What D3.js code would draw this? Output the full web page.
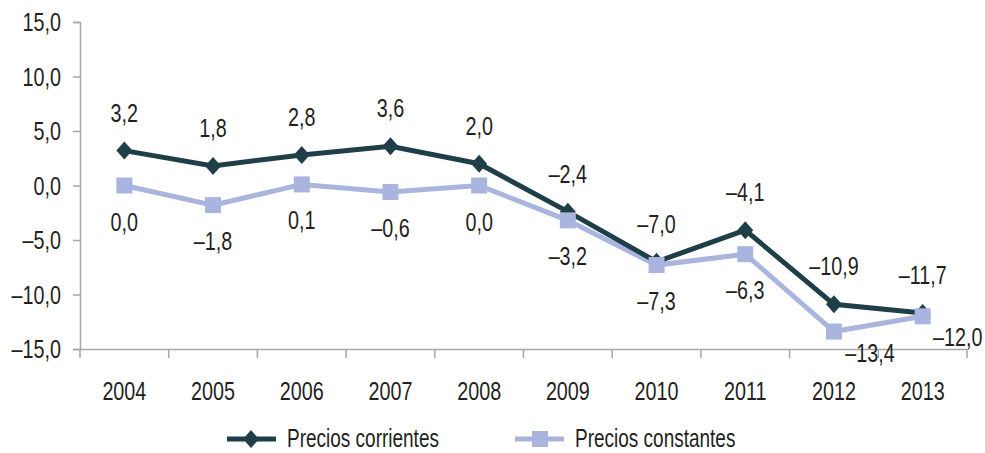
<!DOCTYPE html>
<html>
<head>
<meta charset="utf-8">
<script src="https://cdn.jsdelivr.net/npm/d3@7"></script>
<style>
  body { margin: 0; background: #fff; }
  svg text { font-family: "Liberation Sans", Arial, sans-serif; fill: #231f20; }
</style>
</head>
<body>
<svg width="985" height="453"></svg>
<script>
const years = ['2004', '2005', '2006', '2007', '2008', '2009', '2010', '2011', '2012', '2013'];
const corrientes = [3.2, 1.8, 2.8, 3.6, 2.0, -2.4, -7.0, -4.1, -10.9, -11.7];
const constantes = [0.0, -1.8, 0.1, -0.6, 0.0, -3.2, -7.3, -6.3, -13.4, -12.0];
const yTicks = [-15, -10, -5, 0, 5, 10, 15];
const seriesNames = ['Precios corrientes', 'Precios constantes'];

const DARK = '#1f3f48';
const LIGHT = '#a9b5de';
const AXIS = '#a6a6a6';
const FS = 26;        // font size
const SX = 0.76;      // horizontal squeeze, the original uses a condensed face

const svg = d3.select('svg');

const x = d3.scaleBand().domain(years).range([80, 967]);
const y = d3.scaleLinear().domain([-15, 15]).range([349, 22]);
const cx = d => x(d) + x.bandwidth() / 2;

const fmt = v => {
    const s = Math.abs(v).toFixed(1).replace('.', ',');
    return (v < 0 ? '\u2013' : '') + s;
};

// condensed text at (px, py)
function label(parent, px, py, txt, anchor, size) {
    return parent.append('text')
        .attr('transform', `translate(${px},${py}) scale(${SX},1)`)
        .attr('text-anchor', anchor || 'middle')
        .attr('font-size', size || FS)
        .text(txt);
}

// AXES

const gy = svg.append('g')
    .attr('transform', 'translate(80,0)')
    .call(d3.axisLeft(y).tickValues(yTicks).tickSize(7).tickFormat(''));

const gx = svg.append('g')
    .attr('transform', 'translate(0,349)')
    .call(d3.axisBottom(x).tickSize(0).tickFormat(''));

gx.selectAll('.sep')
    .data(d3.range(years.length + 1))
    .join('line')
    .attr('class', 'sep')
    .attr('x1', i => 80 + i * x.bandwidth())
    .attr('x2', i => 80 + i * x.bandwidth())
    .attr('y1', 0)
    .attr('y2', 9)
    .attr('stroke', AXIS)
    .attr('stroke-width', 1.5);

[gy, gx].forEach(g => {
    g.select('.domain').attr('stroke', AXIS).attr('stroke-width', 1.5);
    g.selectAll('.tick line').attr('stroke', AXIS).attr('stroke-width', 1.5);
});

yTicks.forEach(t => label(svg, 61, y(t) + 9, fmt(t), 'end'));
years.forEach(yr => label(svg, cx(yr), 400, yr));

// LINES

const line = d3.line()
    .x((d, i) => cx(years[i]))
    .y(d => y(d));

svg.append('path')
    .datum(constantes)
    .attr('d', line)
    .attr('fill', 'none')
    .attr('stroke', LIGHT)
    .attr('stroke-width', 5);

svg.append('path')
    .datum(corrientes)
    .attr('d', line)
    .attr('fill', 'none')
    .attr('stroke', DARK)
    .attr('stroke-width', 5);

const diamond = 'M0,-9L8,0L0,9L-8,0Z';

svg.selectAll('.mk-corr')
    .data(corrientes)
    .join('path')
    .attr('class', 'mk-corr')
    .attr('d', diamond)
    .attr('transform', (d, i) => `translate(${cx(years[i])},${y(d)})`)
    .attr('fill', DARK);

svg.selectAll('.mk-const')
    .data(constantes)
    .join('rect')
    .attr('class', 'mk-const')
    .attr('x', (d, i) => cx(years[i]) - 8)
    .attr('y', d => y(d) - 8)
    .attr('width', 16)
    .attr('height', 16)
    .attr('fill', LIGHT);

// LABELS

corrientes.forEach((v, i) => label(svg, cx(years[i]), y(v) - 29, fmt(v)));

constantes.forEach((v, i) => {
    if (i === 8) label(svg, cx(years[i]) + 36, y(v) + 30, fmt(v));
    else if (i === 9) label(svg, cx(years[i]) + 35, y(v) + 30, fmt(v));
    else label(svg, cx(years[i]), y(v) + 45, fmt(v));
});

// LEGEND

const legend = svg.append('g').attr('transform', 'translate(0,439)');
const legX = [227, 515];

legend.selectAll('line')
    .data(seriesNames)
    .join('line')
    .attr('x1', (d, i) => legX[i])
    .attr('x2', (d, i) => legX[i] + 49)
    .attr('stroke', (d, i) => i === 0 ? DARK : LIGHT)
    .attr('stroke-width', 5);

legend.append('path')
    .attr('d', diamond)
    .attr('transform', `translate(${legX[0] + 24},0)`)
    .attr('fill', DARK);

legend.append('rect')
    .attr('x', legX[1] + 25 - 8)
    .attr('y', -8)
    .attr('width', 16)
    .attr('height', 16)
    .attr('fill', LIGHT);

seriesNames.forEach((n, i) => label(legend, legX[i] + 60, 8, n, 'start', 25));
</script>
</body>
</html>
